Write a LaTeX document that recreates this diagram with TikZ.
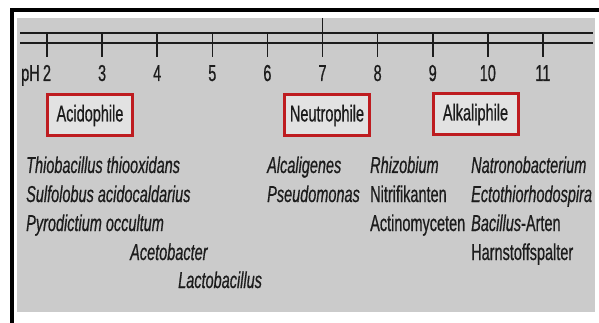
\documentclass[tikz,border=0pt]{standalone}
\usepackage{fontspec}
\setmainfont[FakeStretch=0.63,FakeBold=0.6]{Liberation Sans}
\definecolor{panelgray}{RGB}{203,203,203}
\definecolor{boxred}{RGB}{190,28,32}
\definecolor{boxfill}{RGB}{226,226,226}
\definecolor{ink}{RGB}{28,28,28}
\begin{document}
\begin{tikzpicture}[x=1pt,y=-1pt,
  lbl/.style={anchor=base west, inner sep=0pt, text=ink, font=\fontsize{23}{27}\selectfont},
  itl/.style={lbl, font=\fontsize{23}{27}\selectfont\itshape},
  num/.style={anchor=base, inner sep=0pt, text=ink, font=\fontsize{23}{27}\selectfont},
  groupbox/.style={draw=boxred, line width=3pt, fill=boxfill, minimum width=85pt, minimum height=41pt, inner sep=0pt, text=ink, font=\fontsize{23}{27}\selectfont},
  axisline/.style={line width=2pt, ink},
  tick/.style={line width=1.6pt, ink}]
\useasboundingbox (0,0) rectangle (599,323);
\fill[white] (0,0) rectangle (599,323);
\fill[panelgray] (17,18) rectangle (595,312);
% frame
\fill[black] (10,8) rectangle (599,12);
\fill[black] (10,8) rectangle (14,323);
% axis
\draw[axisline] (20,33.5) -- (593,33.5);
\draw[axisline] (20,43) -- (593,43);
\foreach \v in {2,...,11}{
  \pgfmathsetmacro{\xx}{47+55.1*(\v-2)}
  \ifnum\v=7
    \draw[tick] (\xx,18) -- (\xx,57);
  \else
    \draw[tick] (\xx,33) -- (\xx,57);
  \fi
  \node[num] (n\v) at (\xx,81) {\v};
}
\node[lbl] (ph) at (21,81) {pH};
% boxes
\node[groupbox] (acido) at (90,115.5) {Acidophile};
\node[groupbox] (neutro) at (327,115.5) {Neutrophile};
\node[groupbox] (alkali) at (475.5,114.5) {Alkaliphile};
% organisms
\node[itl] (t1) at (26,173) {Thiobacillus thiooxidans};
\node[itl] (t2) at (26,202) {Sulfolobus acidocaldarius};
\node[itl] (t3) at (26,231) {Pyrodictium occultum};
\node[itl] (t4) at (130,260) {Acetobacter};
\node[itl] (t5) at (178,288) {Lactobacillus};
\node[itl] (t6) at (267,173) {Alcaligenes};
\node[itl] (t7) at (267,202) {Pseudomonas};
\node[itl] (t8) at (370,173) {Rhizobium};
\node[lbl] (t9) at (370,202) {Nitrifikanten};
\node[lbl] (t10) at (370,231) {Actinomyceten};
\node[itl] (t11) at (471,173) {Natronobacterium};
\node[itl] (t12) at (471,202) {Ectothiorhodospira};
\node[lbl] (t13) at (471,231) {\textit{Bacillus}-Arten};
\node[lbl] (t14) at (471,260) {Harnstoffspalter};
\end{tikzpicture}
\end{document}
